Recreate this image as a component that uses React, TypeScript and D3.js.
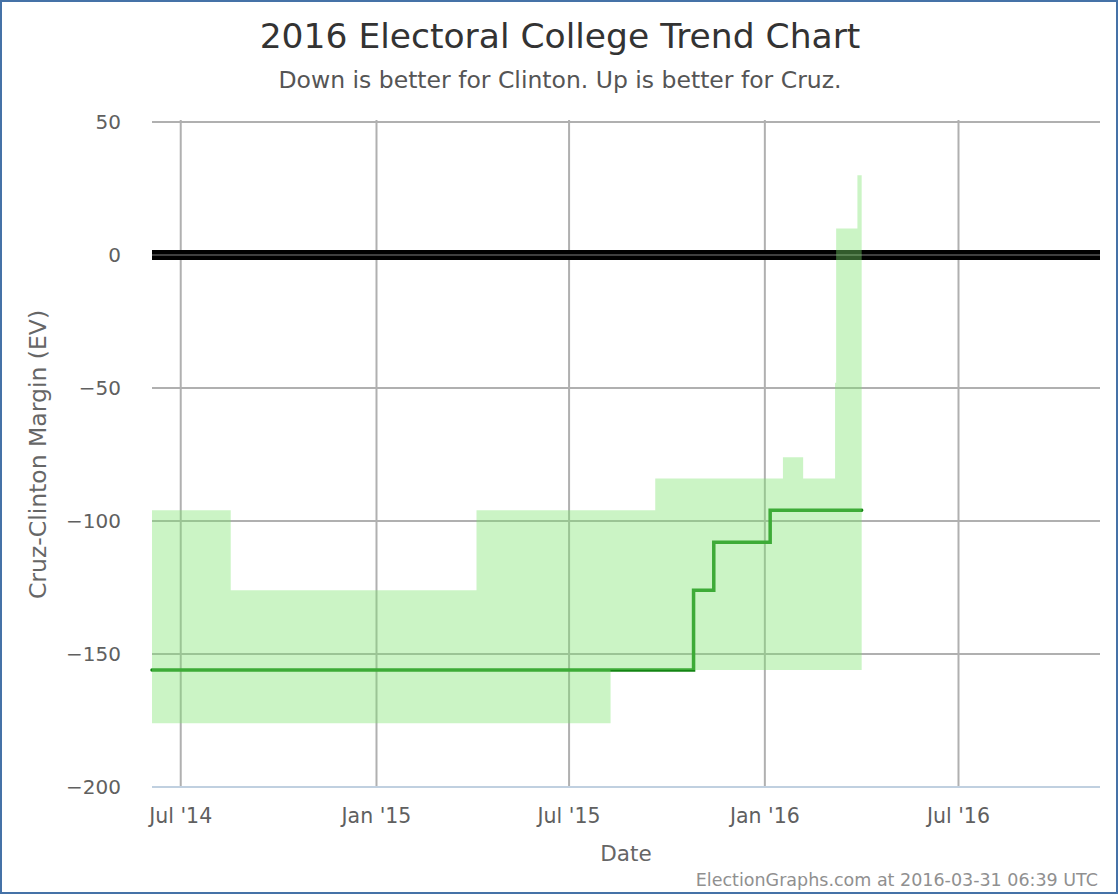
import React from "react";
import * as d3 from "d3";

const W = 1120;
const H = 896;

// Band (range of outcomes) step points
const bandDates = [
  "2014-06-04", "2014-08-17", "2015-04-05", "2015-08-09", "2015-09-20",
  "2016-01-18", "2016-02-06", "2016-03-07", "2016-03-08", "2016-03-28", "2016-04-01",
];
const bandHigh = [-96, -126, -96, -96, -84, -76, -84, -48, 10, 30, 30];
const bandLow = [-176, -176, -176, -156, -156, -156, -156, -156, -156, -156, -156];

// Expected margin line
const lineDates = ["2014-06-04", "2015-10-26", "2015-11-14", "2016-01-06", "2016-04-01"];
const lineValues = [-156, -126, -108, -96, -96];

const yTicks = [50, 0, -50, -100, -150, -200];
const xTickDates = ["2014-07-01", "2015-01-01", "2015-07-01", "2016-01-01", "2016-07-01"];
const xTickLabels = ["Jul '14", "Jan '15", "Jul '15", "Jan '16", "Jul '16"];

const title = "2016 Electoral College Trend Chart";
const subtitle = "Down is better for Clinton. Up is better for Cruz.";
const yTitle = "Cruz-Clinton Margin (EV)";
const xTitle = "Date";
const credit = "ElectionGraphs.com at 2016-03-31 06:39 UTC";

const parse = (s: string) => new Date(s + "T00:00:00Z");

export default function App() {
  const left = 152, right = 1100, top = 122, bottom = 787;
  const x = d3.scaleUtc().domain([parse("2014-06-04"), parse("2016-11-11")]).range([left, right]);
  const y = d3.scaleLinear().domain([-200, 50]).range([bottom, top]);

  const band = bandDates.map((d, i) => ({ d: parse(d), hi: bandHigh[i], lo: bandLow[i] }));
  const line = lineDates.map((d, i) => ({ d: parse(d), v: lineValues[i] }));

  const areaGen = d3.area<any>().x((p) => x(p.d)).y0((p) => y(p.lo)).y1((p) => y(p.hi)).curve(d3.curveStepAfter);
  const lineGen = d3.line<any>().x((p) => x(p.d)).y((p) => y(p.v)).curve(d3.curveStepAfter);

  const font = "'DejaVu Sans', Verdana, sans-serif";

  return (
    <div style={{ position: "absolute", left: 0, top: 0 }}>
      <svg width={W} height={H} style={{ display: "block", fontFamily: font }}>
        <rect x={0} y={0} width={W} height={H} fill="#fff" />
        <rect x={1} y={1} width={1116} height={892} fill="none" stroke="#4572a7" strokeWidth={2} />

        <text x={560} y={48} textAnchor="middle" fontSize={34.5} fill="#333">{title}</text>
        <text x={560} y={88} textAnchor="middle" fontSize={23.5} fill="#555">{subtitle}</text>

        {/* gridlines */}
        {yTicks.map((t) => (
          <line key={"gy" + t} x1={left} x2={right} y1={y(t)} y2={y(t)} stroke="#b0b0b0" strokeWidth={2} />
        ))}
        {xTickDates.map((t) => (
          <line key={"gx" + t} x1={x(parse(t))} x2={x(parse(t))} y1={top - 2} y2={bottom} stroke="#b0b0b0" strokeWidth={2} />
        ))}

        {/* zero line */}
        <rect x={left} y={y(0) - 5} width={right - left} height={10} fill="#000" />
        <line x1={left} x2={right} y1={y(0)} y2={y(0)} stroke="#555" strokeWidth={1.5} />

        {/* expected line (under band) */}
        <path d={lineGen(line) || ""} fill="none" stroke="#138513" strokeWidth={3.5} strokeLinecap="round" />

        {/* band */}
        <path d={areaGen(band) || ""} fill="#7ee36e" fillOpacity={0.4} />

        {/* x axis line */}
        <line x1={left} x2={right} y1={bottom} y2={bottom} stroke="#c0d0e0" strokeWidth={2} />

        {/* y labels */}
        {yTicks.map((t) => (
          <text key={"ly" + t} x={121} y={y(t) + 7} textAnchor="end" fontSize={20} fill="#606060">
            {t < 0 ? "\u2212" + Math.abs(t) : String(t)}
          </text>
        ))}
        {/* x labels */}
        {xTickDates.map((t, i) => (
          <text key={"lx" + t} x={x(parse(t))} y={823} textAnchor="middle" fontSize={20.5} fill="#606060">
            {xTickLabels[i]}
          </text>
        ))}

        <text x={(left + right) / 2} y={861} textAnchor="middle" fontSize={21.5} fill="#666">{xTitle}</text>
        <text transform={`translate(46, ${(top + bottom) / 2}) rotate(-90)`} textAnchor="middle" fontSize={23.5} fill="#666">
          {yTitle}
        </text>

        <text x={1098} y={886} textAnchor="end" fontSize={17.5} fill="#909090">{credit}</text>
      </svg>
    </div>
  );
}
